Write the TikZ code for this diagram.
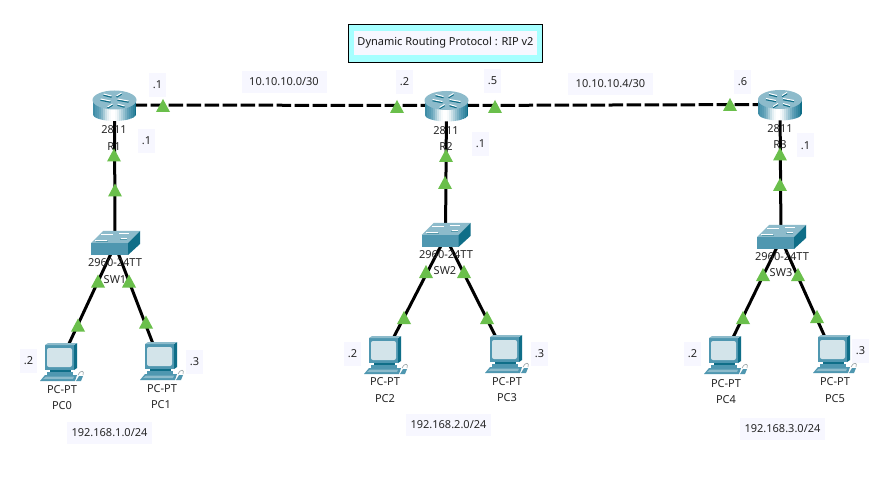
\documentclass[tikz,border=0pt]{standalone}
\usepackage{fontspec}
\setmainfont{Noto Sans}
\definecolor{tagbg}{HTML}{F7F7FF}
\definecolor{tealD}{HTML}{0F6E88}
\definecolor{tealM}{HTML}{4F97B0}
\definecolor{tealL}{HTML}{8DBBCB}
\definecolor{scrn}{HTML}{D3E4EA}
\definecolor{tri}{HTML}{6ABF4B}
\definecolor{cyanbg}{HTML}{A6FFFF}
\tikzset{
 x=1pt,y=-1pt,
 lnk/.style={line width=3pt,black},
 dlnk/.style={lnk,dash pattern=on 14.5pt off 3.5pt},
 tag/.style={fill=tagbg,font=\fontsize{11}{12}\selectfont,inner xsep=0pt,inner ysep=0pt,minimum width=17pt,minimum height=24pt,text=black!85},
 widetag/.style={tag,minimum width=85pt,minimum height=22pt},
 devcap/.style={font=\fontsize{11}{12}\selectfont,text=black!85,inner sep=0pt},
 dev/.style={inner sep=0pt,minimum width=8pt,minimum height=8pt},
 router/.pic={
  \begin{scope}
   \clip (-22,-5) -- (-22,9) arc[start angle=180,end angle=0,x radius=22,y radius=7] -- (22,-5) -- cycle;
   \foreach \k/\m in {-22/tealM!75!tealD,-20/tealM,-18/tealM!95!white,-16/tealM!85!white,-14/tealM!70!white,-12/tealM!50!white,-10/tealM!30!white,-8/tealM!15!white,-6/tealM!5!white,-4/white,-2/white,0/tealM!5!white,2/tealM!15!white,4/tealM!30!white,6/tealM!45!white,8/tealM!60!white,10/tealM!75!white,12/tealM!90!white,14/tealM,16/tealM!75!tealD,18/tealM!50!tealD,20/tealD}
     \fill[\m] (\k,-6) rectangle (\k+2.2,18);
  \end{scope}
  \fill[tealL] (0,-5) ellipse[x radius=22,y radius=9.5];
  \draw[tealD,line width=1.6pt] (-14,-5)--(-4,-3) (3,-5)--(14,-3) (-3,-8)--(-11,-10) (3,0)--(10,2) (-2,0)--(-7,3) (2,-8)--(7,-11);
  \draw[white,line width=1pt] (-14,-6)--(-4,-4) (3,-6)--(14,-4) (-3,-9)--(-11,-11) (3,-1)--(10,1) (-2,-1)--(-7,2) (2,-9)--(7,-12);
 },
 switch/.pic={
  \fill[tealL] (-24,-2) -- (-12,-14) -- (25,-14) -- (13,-2) -- cycle;
  \fill[tealM] (-24,-2) rectangle (13,10);
  \fill[tealD] (13,-2) -- (25,-14) -- (25,-1) -- (13,10) -- cycle;
  \draw[tealD!70,line width=.6pt] (-19,-4)--(-7,-4) (5,-6)--(12,-6);
  \draw[white,line width=.8pt] (-14,-11)--(-2,-11) (4,-12)--(14,-12) (-20,-5)--(-8,-5) (6,-7)--(12,-7);
 },
 pc/.pic={
  \fill[tealM] (-15,-18) rectangle (14,7);
  \fill[tealD] (14,-18) -- (17,-20) -- (17,5) -- (14,7) -- cycle;
  \fill[tealL] (-15,-18) -- (-12,-20) -- (17,-20) -- (14,-18) -- cycle;
  \fill[scrn,rounded corners=2pt] (-13,-15) rectangle (12,4);
  \fill[tealD] (-10,7) rectangle (11,9);
  \fill[tealM] (-13,9) rectangle (13,12);
  \fill[tealM] (-20,18) -- (-15,12) -- (17,12) -- (15,18) -- cycle;
  \fill[tealL] (-17,16) -- (-14,13.5) -- (14,13.5) -- (13,16) -- cycle;
  \fill[tealM] (16,18) -- (19,13) -- (23,13) -- (21,18) -- cycle;
  \draw[scrn!70!black,line width=.6pt] (18,12) .. controls (20,7) and (25,7) .. (23,12);
 },
}
\begin{document}
\begin{tikzpicture}
\useasboundingbox (0,0) rectangle (880,494);
\fill[white] (0,0) rectangle (880,494);
% anchors
\node[dev] (R1) at (114.5,105) {};
\node[dev] (R2) at (446.5,105.5) {};
\node[dev] (R3) at (780,104.5) {};
\node[dev] (SW1) at (115,245) {};
\node[dev] (SW2) at (445.5,237) {};
\node[dev] (SW3) at (781,239) {};
\node[dev] (PC0) at (60,363) {};
\node[dev] (PC1) at (160,362) {};
\node[dev] (PC2) at (384,356) {};
\node[dev] (PC3) at (505,355) {};
\node[dev] (PC4) at (724,356) {};
\node[dev] (PC5) at (833,355) {};
% links
\draw[dlnk] (R1.center) -- (R2.center);
\draw[dlnk] (R2.center) -- (R3.center);
\foreach \a/\b in {R1/SW1,R2/SW2,R3/SW3,SW1/PC0,SW1/PC1,SW2/PC2,SW2/PC3,SW3/PC4,SW3/PC5}
  \draw[lnk] (\a.center) -- (\b.center);
% icons
\foreach \n in {R1,R2,R3} \path (\n) pic {router};
\foreach \n in {SW1,SW2,SW3} \path (\n) pic {switch};
\foreach \n in {PC0,PC1,PC2,PC3,PC4,PC5} \path (\n) pic {pc};
% device captions
\foreach \x/\y/\txt in {114/130/2811,114/147/R1,446/131/2811,446/147/R2,780/129/2811,780/145/R3,
  115/263/2960-24TT,115/280/SW1,446/255/2960-24TT,445/271/SW2,782/257/2960-24TT,781/273/SW3,
  62/390/PC-PT,62/406/PC0,162/389/PC-PT,161/405/PC1,385/382/PC-PT,385/399/PC2,507/382/PC-PT,507/398/PC3,
  726/384/PC-PT,726/400/PC4,835/382/PC-PT,835/399/PC5}
  \node[devcap] at (\x,\y) {\txt};
% link lights
\foreach \x/\y in {163/105.5,397/106.5,495/106.5,730/104.5,114/155,115/190,446/155.5,445/182.5,780/154,780/184.5,98/281,129/281,78/325,146/322,426/271.5,464/271.5,404/317.5,487/317.5,763/274.5,798/274.5,743/317.5,817/316.5}
  \fill[tri] (\x,\y-6.5) -- (\x+7,\y+6.5) -- (\x-7,\y+6.5) -- cycle;
% address tags
\foreach \x/\y/\txt in {157.5/85/.1,146.5/141/.1,404.5/82/.2,492.5/81/.5,742.5/82/.6,480.5/144/.1,805.5/145.5/.1,
  28.5/361/.2,194.5/362/.3,352.5/354/.2,539.5/354/.3,692.5/354/.2,860.5/351/.3}
  \node[tag] at (\x,\y) {\txt};
\foreach \x/\y/\txt in {284/82/{10.10.10.0/30},610.5/84/{10.10.10.4/30},109.5/433/{192.168.1.0/24},448.5/425/{192.168.2.0/24},782.5/429/{192.168.3.0/24}}
  \node[widetag] at (\x,\y) {\txt};
% title
\node[draw=black,line width=.8pt,fill=cyanbg,minimum width=194pt,minimum height=38pt] (title) at (445.5,43) {};
\node[fill=tagbg,font=\fontsize{11}{12}\selectfont,text=black!90,minimum width=183pt,minimum height=24pt,inner sep=0pt] at (title.center) {Dynamic Routing Protocol : RIP v2};
\end{tikzpicture}
\end{document}
